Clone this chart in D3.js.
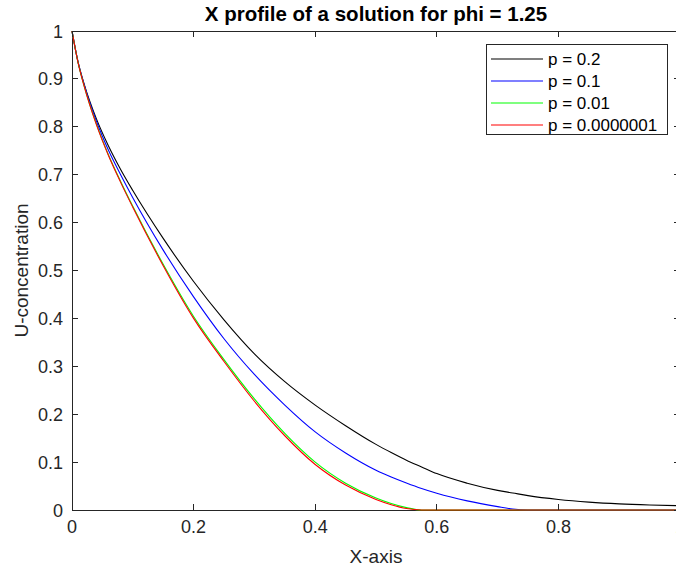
<!DOCTYPE html>
<html>
<head>
<meta charset="utf-8">
<script src="https://d3js.org/d3.v7.min.js"></script>
<style>
  body { margin: 0; background: #fff; }
  svg { display: block; font-family: "Liberation Sans", Arial, sans-serif; }
  .tick-label { font-size: 18px; fill: #262626; }
  .axis-label { font-size: 19px; fill: #262626; }
  .title { font-size: 20.5px; font-weight: bold; fill: #000; }
  .legend-label { font-size: 17px; fill: #000; }
</style>
</head>
<body>
<div id="chart"></div>
<script>
// x positions shared by every series
var xGrid = [0, 0.01, 0.02, 0.04, 0.06, 0.08, 0.1, 0.15, 0.2, 0.25, 0.3, 0.35, 0.4, 0.45,
             0.5, 0.525, 0.55, 0.575, 0.6, 0.65, 0.7, 0.725, 0.75, 0.8, 0.85, 0.9, 0.95, 1.0];

var uP02 = [1, 0.935, 0.889, 0.817, 0.76, 0.711, 0.667, 0.567, 0.477, 0.397, 0.326, 0.268, 0.219, 0.176,
            0.137, 0.120, 0.104, 0.090, 0.076, 0.056, 0.041, 0.0355, 0.030, 0.022, 0.0165, 0.0128, 0.0105, 0.009];
var uP01 = [1, 0.935, 0.888, 0.812, 0.751, 0.70, 0.652, 0.5425, 0.445, 0.3575, 0.283, 0.219, 0.163, 0.119,
            0.083, 0.069, 0.0565, 0.045, 0.035, 0.019, 0.007, 0.002, 0, 0, 0, 0, 0, 0];
var uP001 = [1, 0.934, 0.885, 0.806, 0.741, 0.686, 0.634, 0.513, 0.404, 0.314, 0.232, 0.16, 0.1, 0.056,
             0.025, 0.0135, 0.005, 0, 0, 0, 0, 0, 0, 0, 0, 0, 0, 0];
var uP1e7 = [1, 0.934, 0.885, 0.805, 0.74, 0.684, 0.632, 0.51, 0.40, 0.31, 0.227, 0.155, 0.095, 0.052,
             0.022, 0.011, 0.003, 0, 0, 0, 0, 0, 0, 0, 0, 0, 0, 0];

var seriesLabels = ['p = 0.2', 'p = 0.1', 'p = 0.01', 'p = 0.0000001'];
var seriesColors = ['#000000', '#0000ff', '#00ff00', '#ff0000'];
var xTicks = [0, 0.2, 0.4, 0.6, 0.8, 1];
var yTicks = [0, 0.1, 0.2, 0.3, 0.4, 0.5, 0.6, 0.7, 0.8, 0.9, 1];

var series = [uP02, uP01, uP001, uP1e7].map(function(vals, i) {
  return {
    label: seriesLabels[i],
    color: seriesColors[i],
    points: vals.map(function(v, j) { return [xGrid[j], v]; })
  };
});

function drawChart() {
  var width = 676, height = 571;
  // axes box (right edge runs just past the window, as in the original)
  var left = 72, top = 31, right = 680, bottom = 510;
  var tickLen = 6;
  var axisColor = '#262626';

  var svg = d3.select('#chart').append('svg')
    .attr('width', width)
    .attr('height', height);

  var x = d3.scaleLinear().domain([0, 1]).range([left, right]);
  var y = d3.scaleLinear().domain([0, 1]).range([bottom, top]);

  var line = d3.line()
    .x(function(d) { return x(d[0]); })
    .y(function(d) { return y(d[1]); })
    .curve(d3.curveMonotoneX);

  // Axis box
  svg.append('rect')
    .attr('x', left).attr('y', top)
    .attr('width', right - left).attr('height', bottom - top)
    .attr('fill', 'none')
    .attr('stroke', axisColor)
    .attr('stroke-width', 1)
    .attr('shape-rendering', 'crispEdges');

  // Data lines, red last so it sits on top
  svg.selectAll('.series').data(series).enter()
    .append('path')
    .classed('series', true)
    .attr('d', function(d) { return line(d.points); })
    .attr('fill', 'none')
    .attr('stroke', function(d) { return d.color; })
    .attr('stroke-width', 1.1);

  // Ticks pointing inward on all four sides
  var ticks = svg.append('g')
    .attr('stroke', axisColor)
    .attr('stroke-width', 1)
    .attr('shape-rendering', 'crispEdges');

  xTicks.forEach(function(t) {
    ticks.append('line').attr('x1', x(t)).attr('x2', x(t)).attr('y1', bottom).attr('y2', bottom - tickLen);
    ticks.append('line').attr('x1', x(t)).attr('x2', x(t)).attr('y1', top).attr('y2', top + tickLen);
  });
  yTicks.forEach(function(t) {
    ticks.append('line').attr('x1', left).attr('x2', left + tickLen).attr('y1', y(t)).attr('y2', y(t));
    ticks.append('line').attr('x1', right).attr('x2', right - tickLen).attr('y1', y(t)).attr('y2', y(t));
  });

  // Tick labels
  var fmt = function(v) { return String(+v.toFixed(1)); };
  svg.selectAll('.xtl').data(xTicks).enter()
    .append('text')
    .attr('class', 'tick-label')
    .attr('x', function(d) { return x(d); })
    .attr('y', bottom + 23)
    .attr('text-anchor', 'middle')
    .text(fmt);

  svg.selectAll('.ytl').data(yTicks).enter()
    .append('text')
    .attr('class', 'tick-label')
    .attr('x', left - 9)
    .attr('y', function(d) { return y(d) + 6.5; })
    .attr('text-anchor', 'end')
    .text(fmt);

  // Axis labels and title
  svg.append('text')
    .attr('class', 'axis-label')
    .attr('x', (left + right) / 2)
    .attr('y', 563)
    .attr('text-anchor', 'middle')
    .text('X-axis');

  svg.append('text')
    .attr('class', 'axis-label')
    .attr('transform', 'translate(28,' + (top + bottom) / 2 + ') rotate(-90)')
    .attr('text-anchor', 'middle')
    .text('U-concentration');

  svg.append('text')
    .attr('class', 'title')
    .attr('x', (left + right) / 2)
    .attr('y', 21)
    .attr('text-anchor', 'middle')
    .text('X profile of a solution for phi = 1.25');

  // Legend
  var lgX = 486, lgY = 44, lgW = 181, rowH = 22;
  var legend = svg.append('g').attr('transform', 'translate(' + lgX + ',' + lgY + ')');
  legend.append('rect')
    .attr('width', lgW)
    .attr('height', rowH * series.length + 2)
    .attr('fill', '#fff')
    .attr('stroke', axisColor)
    .attr('stroke-width', 1)
    .attr('shape-rendering', 'crispEdges');

  var rows = legend.selectAll('.lg-row').data(series).enter()
    .append('g')
    .attr('transform', function(d, i) { return 'translate(0,' + (15 + i * rowH) + ')'; });
  rows.append('line')
    .attr('x1', 5).attr('x2', 57)
    .attr('y1', 0).attr('y2', 0)
    .attr('stroke', function(d) { return d.color; })
    .attr('stroke-width', 1.1);
  rows.append('text')
    .attr('class', 'legend-label')
    .attr('x', 62)
    .attr('y', 6)
    .text(function(d) { return d.label; });
}

drawChart();
</script>
</body>
</html>
